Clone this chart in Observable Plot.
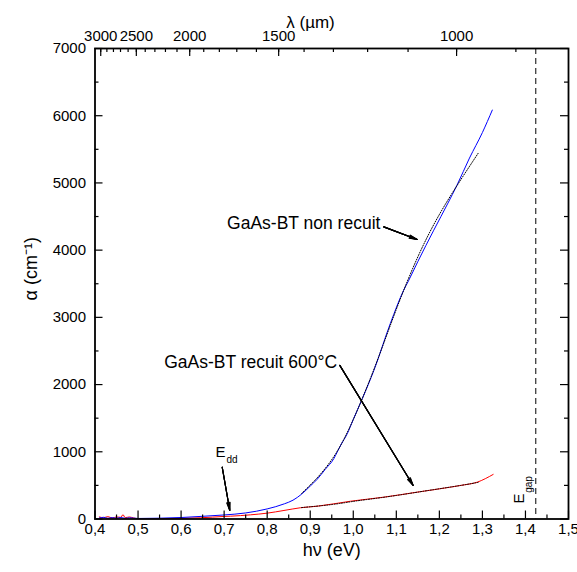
<!DOCTYPE html>
<html><head><meta charset="utf-8">
<script src="https://cdn.jsdelivr.net/npm/d3@7"></script>
<script src="https://cdn.jsdelivr.net/npm/@observablehq/plot@0.6"></script>
<style>body{margin:0;background:#fff} svg{font-family:"Liberation Sans",Arial,sans-serif}</style>
</head><body><div id="chart"></div>
<script>
// GaAs-BT non recuit (blue)
const blueE = [0.41,0.42,0.43,0.44,0.45,0.46,0.47,0.48,0.50,0.55,0.60,0.65,0.70,0.75,0.80,0.84,0.86,0.88,0.90,0.916,0.935,0.955,0.963,0.971,0.986,1.00,1.021,1.048,1.086,1.117,1.129,1.15,1.187,1.22,1.241,1.27,1.30,1.323];
const blueA = [15,25,10,20,12,22,10,18,8,12,22,40,60,90,150,226,280,370,490,590,740,900,1000,1100,1269,1480,1790,2212,2907,3403,3552,3830,4297,4700,4967,5370,5750,6084];
// GaAs-BT recuit 600°C (red)
const redE = [0.41,0.42,0.43,0.44,0.45,0.46,0.465,0.47,0.48,0.49,0.50,0.55,0.60,0.645,0.70,0.715,0.761,0.80,0.839,0.877,0.916,0.994,1.071,1.148,1.226,1.25,1.288,1.325];
const redA = [30,20,35,15,30,25,65,20,30,15,5,5,10,18,38,42,62,87,127,167,190,265,325,399,474,500,548,663];
// fitted curves (black dotted)
const fitBlueE = [0.88,0.92,0.96,1.00,1.05,1.10,1.15,1.20,1.25,1.29];
const fitBlueA = [380,640,980,1480,2260,3120,3900,4530,5050,5440];
const fitRedE = [0.88,0.95,1.00,1.05,1.10,1.15,1.20,1.25,1.29];
const fitRedA = [170,215,262,305,350,400,450,500,545];
// axes
const xMajor = [0.4,0.5,0.6,0.7,0.8,0.9,1.0,1.1,1.2,1.3,1.4,1.5];
const xMinor = [0.45,0.55,0.65,0.75,0.85,0.95,1.05,1.15,1.25,1.35,1.45];
const yMajor = [0,1000,2000,3000,4000,5000,6000,7000];
const yMinor = [500,1500,2500,3500,4500,5500,6500];
const lamLabels = [3000,2500,2000,1500,1000];
const lamTicks = [900,1000,1100,1200,1300,1400,1500,1600,1700,1800,1900,2000,2100,2200,2300,2400,2500,2600,2700,2800,2900,3000];
const Egap = 1.424;

const W=577, H=572, mL=94.5, mR=9, mT=48, mB=53.5;
const pw = W-mL-mR, ph = H-mT-mB;
const toRows = (E,A) => E.map((e,i)=>({E:e,A:A[i]}));
const blue = toRows(blueE, blueA), red = toRows(redE, redA);
const fitB = toRows(fitBlueE, fitBlueA), fitR = toRows(fitRedE, fitRedA);
const fmt = d => d.toFixed(1).replace(".", ",");

// arrow with a filled-looking head (stacked head angles)
const arrowMarks = (x1, y1, x2, y2) => [6, 12, 18, 24].map(a =>
  Plot.arrow([0], {x1:[x1], y1:[y1], x2:[x2], y2:[y2], stroke:"black", strokeWidth:1.1, headLength:11, headAngle:a}));

const chart = Plot.plot({
  width: W, height: H, marginLeft: mL, marginRight: mR, marginTop: mT, marginBottom: mB,
  x: {domain:[0.4,1.5], axis:null}, y: {domain:[0,7000], axis:null},
  style: {fontFamily: '"Liberation Sans", Arial, sans-serif', background: "#fff"},
  marks: [
    Plot.ruleX([Egap], {stroke:"black", strokeDasharray:"6,4", strokeWidth:1}),
    Plot.line(red, {x:"E", y:"A", stroke:"red", strokeWidth:1, curve:"monotone-x"}),
    Plot.line(blue, {x:"E", y:"A", stroke:"blue", strokeWidth:1, curve:"monotone-x"}),
    Plot.line(fitB, {x:"E", y:"A", stroke:"black", strokeWidth:1, strokeDasharray:"1,1.5", curve:"natural"}),
    Plot.line(fitR, {x:"E", y:"A", stroke:"black", strokeWidth:1, strokeDasharray:"1,1.5", curve:"natural"}),
    // ticks (inward)
    Plot.tickX(xMajor, {x:d=>d, insetTop: ph-8, strokeWidth:1.2}),
    Plot.tickX(xMinor, {x:d=>d, insetTop: ph-4, strokeWidth:1.2}),
    Plot.tickX(lamTicks, {x:l=>1240/l, insetBottom: ph-4, strokeWidth:1.2}),
    Plot.tickX(lamLabels, {x:l=>1240/l, insetBottom: ph-8, strokeWidth:1.2}),
    Plot.tickY(yMajor, {y:d=>d, insetRight: pw-8, strokeWidth:1.2}),
    Plot.tickY(yMinor, {y:d=>d, insetRight: pw-4, strokeWidth:1.2}),
    Plot.tickY(yMajor, {y:d=>d, insetLeft: pw-8, strokeWidth:1.2}),
    Plot.tickY(yMinor, {y:d=>d, insetLeft: pw-4, strokeWidth:1.2}),
    Plot.frame({stroke:"black", strokeWidth:1.8}),
    // tick labels
    Plot.text(xMajor, {x:d=>d, text:fmt, frameAnchor:"bottom", dy:15, fontSize:15}),
    Plot.text(yMajor, {y:d=>d, text:d=>String(d), frameAnchor:"left", dx:-9, textAnchor:"end", fontSize:15}),
    Plot.text(lamLabels, {x:l=>1240/l, text:l=>String(l), frameAnchor:"top", dy:-18, fontSize:15}),
    // axis titles
    Plot.text(["hν (eV)"], {frameAnchor:"bottom", dy:37, fontSize:18}),
    Plot.text(["λ (µm)"], {frameAnchor:"top-left", dx:215.5, dy:-33, textAnchor:"middle", fontSize:17}),
    Plot.text(["α (cm⁻¹)"], {frameAnchor:"left", dx:-64, dy:-15, rotate:-90, textAnchor:"middle", fontSize:18}),
    // annotations
    Plot.text(["GaAs-BT non recuit"], {x:[1.063], y:[4401], textAnchor:"end", fontSize:17.5}),
    ...arrowMarks(1.0709, 4346, 1.1484, 4158),
    Plot.text(["GaAs-BT recuit 600°C"], {x:[0.9626], y:[2335], textAnchor:"end", fontSize:17.5}),
    ...arrowMarks(0.9687, 2286, 1.1391, 499),
    Plot.text(["E"], {x:[0.680], y:[995], textAnchor:"start", fontSize:15}),
    Plot.text(["dd"], {x:[0.7055], y:[880], textAnchor:"start", fontSize:10}),
    ...arrowMarks(0.6955, 771, 0.7131, 127),
    Plot.text(["E"], {x:[1.3845], y:[305], rotate:-90, fontSize:15}),
    Plot.text(["gap"], {x:[1.4071], y:[514], rotate:-90, fontSize:10})
  ]
});
document.getElementById("chart").appendChild(chart);
</script>
</body></html>
